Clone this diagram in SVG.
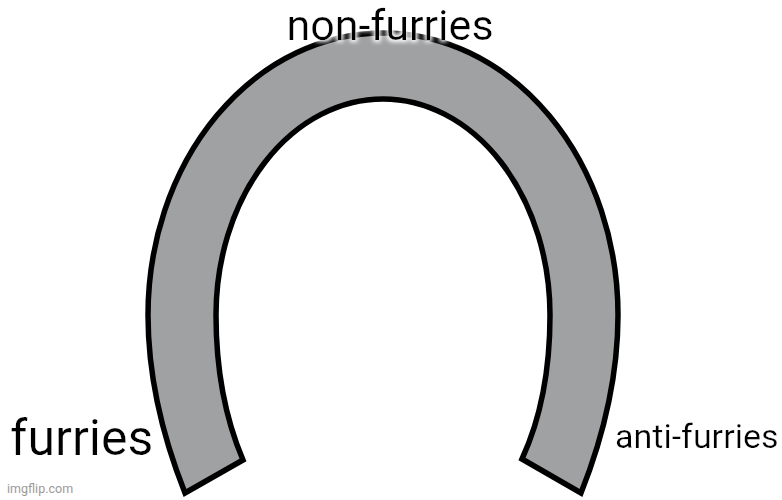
<svg xmlns="http://www.w3.org/2000/svg" width="782" height="500" viewBox="0 0 782 500">
  <style>
    .lbl { font-family: Roboto, "Liberation Sans", Arial, sans-serif; fill: #000; }
    .wm { font-family: Roboto, "Liberation Sans", Arial, sans-serif; fill: #9a9a9a; font-size: 12.5px; }
    .shoe { fill: #a0a1a3; stroke: #000; stroke-width: 5.5; stroke-linejoin: miter; }
  </style>
  <defs>
    <filter id="halo" x="-10%" y="-40%" width="120%" height="180%">
      <feMorphology in="SourceAlpha" operator="dilate" radius="2" result="d"/>
      <feGaussianBlur in="d" stdDeviation="2" result="b"/>
      <feFlood flood-color="#ffffff"/>
      <feComposite in2="b" operator="in" result="w"/>
      <feMerge><feMergeNode in="w"/><feMergeNode in="SourceGraphic"/></feMerge>
    </filter>
  </defs>
  <rect width="782" height="500" fill="#ffffff"/>
  <g id="horseshoe">
    <path class="shoe" d="M 185 493 C 160 430, 148 370, 148 315 A 235 282 0 0 1 618 315 C 618 370, 606 430, 581 493 L 522 459 C 540 420, 550 370, 550 315 A 167 216 0 0 0 216 315 C 216 370, 226 420, 243 460 Z"/>
  </g>
  <g id="label-non-furries">
    <text class="lbl" x="390" y="40" font-size="43" text-anchor="middle" filter="url(#halo)">non-furries</text>
  </g>
  <g id="label-furries">
    <text class="lbl" x="10" y="455" font-size="50" filter="url(#halo)">furries</text>
  </g>
  <g id="label-anti-furries">
    <text class="lbl" x="615" y="448" font-size="34" filter="url(#halo)">anti-furries</text>
  </g>
  <text class="wm" x="7" y="493">imgflip.com</text>
</svg>
